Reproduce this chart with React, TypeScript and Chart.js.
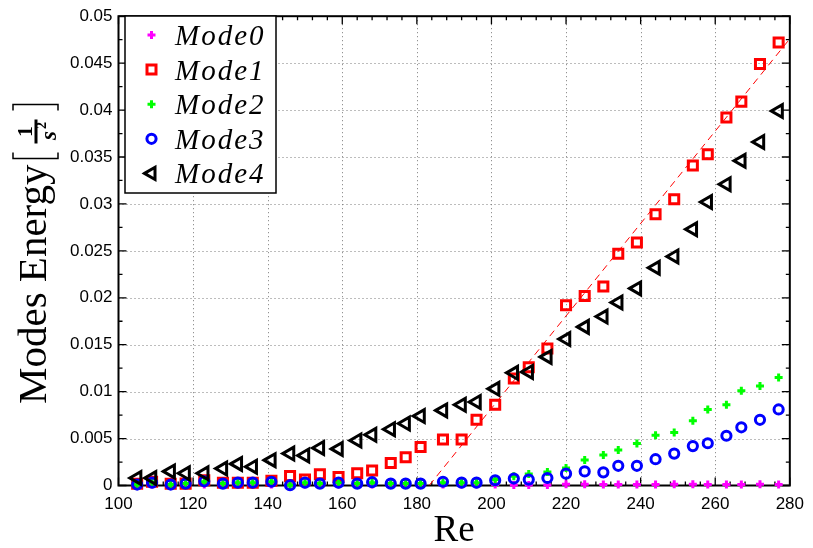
import React, { useEffect, useRef } from 'react';
import { Chart, registerables } from 'chart.js';

Chart.register(...registerables);

// ---------- data ----------
const re = [105, 109, 114, 118, 123, 128, 132, 136, 141, 146, 150, 154, 159, 164, 168, 173, 177, 181, 187,
  192, 196, 201, 206, 210, 215, 220, 225, 230, 234, 239, 244, 249, 254, 258, 263, 267, 272, 277];

const mode0 = [0.0001, 0.0001, 0.0001, 0.0001, 0.0001, 0.0001, 0.0001, 0.0001, 0.0001, 0.0001, 0.0001, 0.0001,
  0.0001, 0.0001, 0.0001, 0.0001, 0.0001, 0.0001, 0.0001, 0.0001, 0.0001, 0.0001, 0.00005, 0.00005, 0.00005,
  0.00012, 0.00012, 0.0001, 0.0001, 0.0001, 0.0001, 0.00012, 0.00012, 0.0001, 0.0001, 0.0001, 0.00012, 0.0001];

const mode1 = [0.00018, 0.0004, 0.00018, 0.0002, 0.00056, 0.0003, 0.0003, 0.0003, 0.0005, 0.001, 0.00063, 0.0012,
  0.0009, 0.0013, 0.0016, 0.0024, 0.003, 0.0041, 0.0049, 0.0049, 0.007, 0.0086, 0.0114, 0.0126, 0.0146,
  0.0192, 0.0202, 0.0212, 0.0247, 0.0259, 0.0289, 0.0305, 0.0341, 0.0353, 0.0392, 0.0409, 0.0449, 0.0472];

const mode2 = [0.0001, 0.0003, 0.0001, 0.0002, 0.0004, 0.0002, 0.0003, 0.0003, 0.0004, 0.00005, 0.0003, 0.0002,
  0.0003, 0.0002, 0.0003, 0.0002, 0.0002, 0.0002, 0.0003, 0.00028, 0.00028, 0.00063, 0.00098, 0.00123, 0.00144,
  0.00186, 0.00273, 0.00326, 0.00378, 0.00448, 0.00536, 0.00564, 0.0069, 0.0081, 0.0086, 0.0101, 0.0106, 0.0115];

const mode3 = [0.0001, 0.0003, 0.0001, 0.0002, 0.00045, 0.0002, 0.0003, 0.0003, 0.0004, 0.00003, 0.0003, 0.0002,
  0.0003, 0.0002, 0.00035, 0.0002, 0.0002, 0.0002, 0.0004, 0.0003, 0.0003, 0.00056, 0.00074, 0.00063, 0.0008,
  0.00126, 0.0015, 0.0014, 0.0021, 0.0021, 0.0028, 0.0034, 0.0042, 0.0045, 0.0053, 0.0062, 0.007, 0.0081];

const mode4 = [0.0008, 0.0008, 0.0015, 0.0013, 0.0013, 0.0018, 0.0023, 0.002, 0.0027, 0.0034, 0.0032, 0.004,
  0.0039, 0.0048, 0.0054, 0.006, 0.0066, 0.0074, 0.008, 0.0086, 0.0089, 0.0103, 0.012, 0.0121, 0.0137,
  0.0156, 0.0169, 0.018, 0.0195, 0.021, 0.0232, 0.0244, 0.0273, 0.0302, 0.0321, 0.0346, 0.0366, 0.0399];

const fitRe = [183.3, 280];
const fitEnergy = [0, 0.0476];

const xTicks = [100, 120, 140, 160, 180, 200, 220, 240, 260, 280];
const yTicks = [0, 0.005, 0.01, 0.015, 0.02, 0.025, 0.03, 0.035, 0.04, 0.045, 0.05];

const seriesNames = ['Mode0', 'Mode1', 'Mode2', 'Mode3', 'Mode4'];
const xTitle = 'Re';
const yTitle = 'Modes Energy';

// ---------- styling ----------
const colors = ['#ff00ff', '#ff0000', '#00ff00', '#0000ff', '#000000'];
const markers = ['plus', 'rect', 'plus', 'circle', 'tri'];

function toPts(xs: number[], ys: number[]) {
  return xs.map((x, i) => ({ x, y: ys[i] }));
}

function drawMarker(ctx: CanvasRenderingContext2D, kind: string, x: number, y: number, color: string) {
  ctx.save();
  ctx.strokeStyle = color;
  ctx.beginPath();
  if (kind === 'plus') {
    ctx.lineWidth = 3;
    ctx.moveTo(x - 4, y); ctx.lineTo(x + 4, y);
    ctx.moveTo(x, y - 4); ctx.lineTo(x, y + 4);
  } else if (kind === 'rect') {
    ctx.lineWidth = 3;
    ctx.rect(x - 4.5, y - 4.5, 9, 9);
  } else if (kind === 'circle') {
    ctx.lineWidth = 3;
    ctx.arc(x, y, 4.6, 0, Math.PI * 2);
  } else {
    ctx.lineWidth = 3;
    ctx.moveTo(x - 7, y);
    ctx.lineTo(x + 3.5, y - 6.1);
    ctx.lineTo(x + 3.5, y + 6.1);
    ctx.closePath();
  }
  ctx.stroke();
  ctx.restore();
}

const framePlugin = {
  id: 'matlabFrame',
  beforeDatasetsDraw(chart: any) {
    const { ctx, chartArea: a, scales } = chart;
    const x = scales.x, y = scales.y;
    ctx.save();
    // dotted grid
    ctx.strokeStyle = '#7a7a7a';
    ctx.lineWidth = 1;
    ctx.setLineDash([1, 3]);
    ctx.beginPath();
    for (const v of xTicks) {
      if (v === xTicks[0] || v === xTicks[xTicks.length - 1]) continue;
      const px = Math.round(x.getPixelForValue(v)) + 0.5;
      ctx.moveTo(px, a.top); ctx.lineTo(px, a.bottom);
    }
    for (const v of yTicks) {
      if (v === yTicks[0] || v === yTicks[yTicks.length - 1]) continue;
      const py = Math.round(y.getPixelForValue(v)) + 0.5;
      ctx.moveTo(a.left, py); ctx.lineTo(a.right, py);
    }
    ctx.stroke();
    ctx.setLineDash([]);
    // tick marks (inward, all four sides)
    ctx.strokeStyle = '#000';
    ctx.lineWidth = 1.3;
    ctx.beginPath();
    for (let i = 0; i <= 45; i++) {
      const v = 100 + 4 * i;
      const len = i % 5 === 0 ? 8 : 4;
      const px = x.getPixelForValue(v);
      ctx.moveTo(px, a.bottom); ctx.lineTo(px, a.bottom - len);
      ctx.moveTo(px, a.top); ctx.lineTo(px, a.top + len);
    }
    for (let i = 0; i <= 20; i++) {
      const v = 0.0025 * i;
      const len = i % 2 === 0 ? 8 : 4;
      const py = y.getPixelForValue(v);
      ctx.moveTo(a.left, py); ctx.lineTo(a.left + len, py);
      ctx.moveTo(a.right, py); ctx.lineTo(a.right - len, py);
    }
    ctx.stroke();
    // frame
    ctx.lineWidth = 2;
    ctx.strokeRect(a.left, a.top, a.right - a.left, a.bottom - a.top);
    ctx.restore();
  },
  afterDatasetsDraw(chart: any) {
    const { ctx, chartArea: a } = chart;
    ctx.save();
    // legend
    const lx = 125, ly = 16, lw = 151, lh = 177;
    ctx.fillStyle = '#fff';
    ctx.fillRect(lx, ly, lw, lh);
    ctx.strokeStyle = '#000';
    ctx.lineWidth = 1.5;
    ctx.strokeRect(lx, ly, lw, lh);
    ctx.fillStyle = '#000';
    ctx.font = 'italic 29px "Liberation Serif"';
    (ctx as any).letterSpacing = '2px';
    ctx.textAlign = 'left';
    ctx.textBaseline = 'alphabetic';
    seriesNames.forEach((name, i) => {
      const cy = 35 + i * 34.6;
      drawMarker(ctx, markers[i], 151.5, cy, colors[i]);
      ctx.fillStyle = '#000';
      ctx.fillText(name, 175, cy + 10);
    });
    (ctx as any).letterSpacing = '0px';

    // x title
    ctx.font = '37px "Liberation Serif"';
    ctx.textAlign = 'center';
    ctx.fillText(xTitle, (a.left + a.right) / 2, 541);

    // y title with [1/s^2]
    ctx.translate(46, 404);
    ctx.rotate(-Math.PI / 2);
    ctx.font = '41px "Liberation Serif"';
    ctx.textAlign = 'left';
    ctx.fillText(yTitle, 0, 0);
    const w = ctx.measureText(yTitle).width;
    const bx = w + 6;
    ctx.lineWidth = 1.5;
    ctx.strokeStyle = '#000';
    ctx.beginPath();
    ctx.moveTo(bx + 6, -33); ctx.lineTo(bx, -33); ctx.lineTo(bx, 12); ctx.lineTo(bx + 6, 12);
    ctx.moveTo(bx + 48, -33); ctx.lineTo(bx + 54, -33); ctx.lineTo(bx + 54, 12); ctx.lineTo(bx + 48, 12);
    ctx.stroke();
    const fx = bx + 27;
    ctx.lineWidth = 3;
    ctx.beginPath();
    ctx.moveTo(fx - 12, -10); ctx.lineTo(fx + 12, -10);
    ctx.stroke();
    ctx.textAlign = 'center';
    ctx.font = 'bold 22px "Liberation Serif"';
    ctx.fillText('1', fx, -14);
    ctx.font = 'bold italic 23px "Liberation Serif"';
    ctx.fillText('s', fx - 4, 10);
    ctx.font = 'bold 14px "Liberation Serif"';
    ctx.fillText('2', fx + 6, 0);
    ctx.restore();
  },
};

export default function App() {
  const ref = useRef<HTMLCanvasElement>(null);
  useEffect(() => {
    if (!ref.current) return;
    const series = [mode0, mode1, mode2, mode3, mode4];
    const pointStyles = ['cross', 'rect', 'cross', 'circle', 'triangle'];
    const radii = [4, 6.4, 4, 4.6, 7.4];
    const widths = [3, 3, 3, 3, 3];
    const datasets: any[] = series.map((ys, i) => ({
      label: seriesNames[i],
      data: toPts(re, ys),
      showLine: false,
      pointStyle: pointStyles[i],
      pointRotation: i === 4 ? -90 : 0,
      pointRadius: radii[i],
      pointBorderWidth: widths[i],
      pointBorderColor: colors[i],
      pointBackgroundColor: 'rgba(0,0,0,0)',
      borderColor: colors[i],
      backgroundColor: 'rgba(0,0,0,0)',
      order: 5 - i,
      clip: false,
    }));
    datasets.push({
      label: 'fit',
      data: toPts(fitRe, fitEnergy),
      showLine: true,
      borderColor: '#ff0000',
      borderWidth: 1,
      borderDash: [7, 5],
      pointRadius: 0,
      order: 10,
    });
    const chart = new Chart(ref.current, {
      type: 'scatter',
      data: { datasets },
      plugins: [framePlugin],
      options: {
        animation: false,
        responsive: false,
        devicePixelRatio: 1,
        layout: { padding: { left: 0, top: 10, right: 16, bottom: 0 } },
        plugins: { legend: { display: false }, tooltip: { enabled: false } },
        scales: {
          x: {
            type: 'linear',
            min: 100,
            max: 280,
            grid: { display: false, drawTicks: false },
            border: { display: false },
            afterBuildTicks: (s: any) => { s.ticks = xTicks.map((v) => ({ value: v })); },
            afterFit: (s: any) => { s.height = 62.5; },
            ticks: {
              color: '#000',
              padding: 9,
              maxRotation: 0,
              autoSkip: false,
              font: { family: '"Liberation Sans", Arial, sans-serif', size: 17 },
              callback: (v: any) => String(v),
            },
          },
          y: {
            type: 'linear',
            min: 0,
            max: 0.05,
            grid: { display: false, drawTicks: false },
            border: { display: false },
            afterBuildTicks: (s: any) => { s.ticks = yTicks.map((v) => ({ value: v })); },
            afterFit: (s: any) => { s.width = 118.5; },
            ticks: {
              color: '#000',
              padding: 6,
              autoSkip: false,
              font: { family: '"Liberation Sans", Arial, sans-serif', size: 17 },
              callback: (v: any) => (v === 0 ? '0' : String(+Number(v).toFixed(4))),
            },
          },
        },
      },
    });
    return () => chart.destroy();
  }, []);
  return (
    <div style={{ position: 'absolute', left: 0, top: 0, width: 813, height: 548, background: '#fff' }}>
      <canvas ref={ref} width={813} height={548} style={{ display: 'block' }} />
    </div>
  );
}
